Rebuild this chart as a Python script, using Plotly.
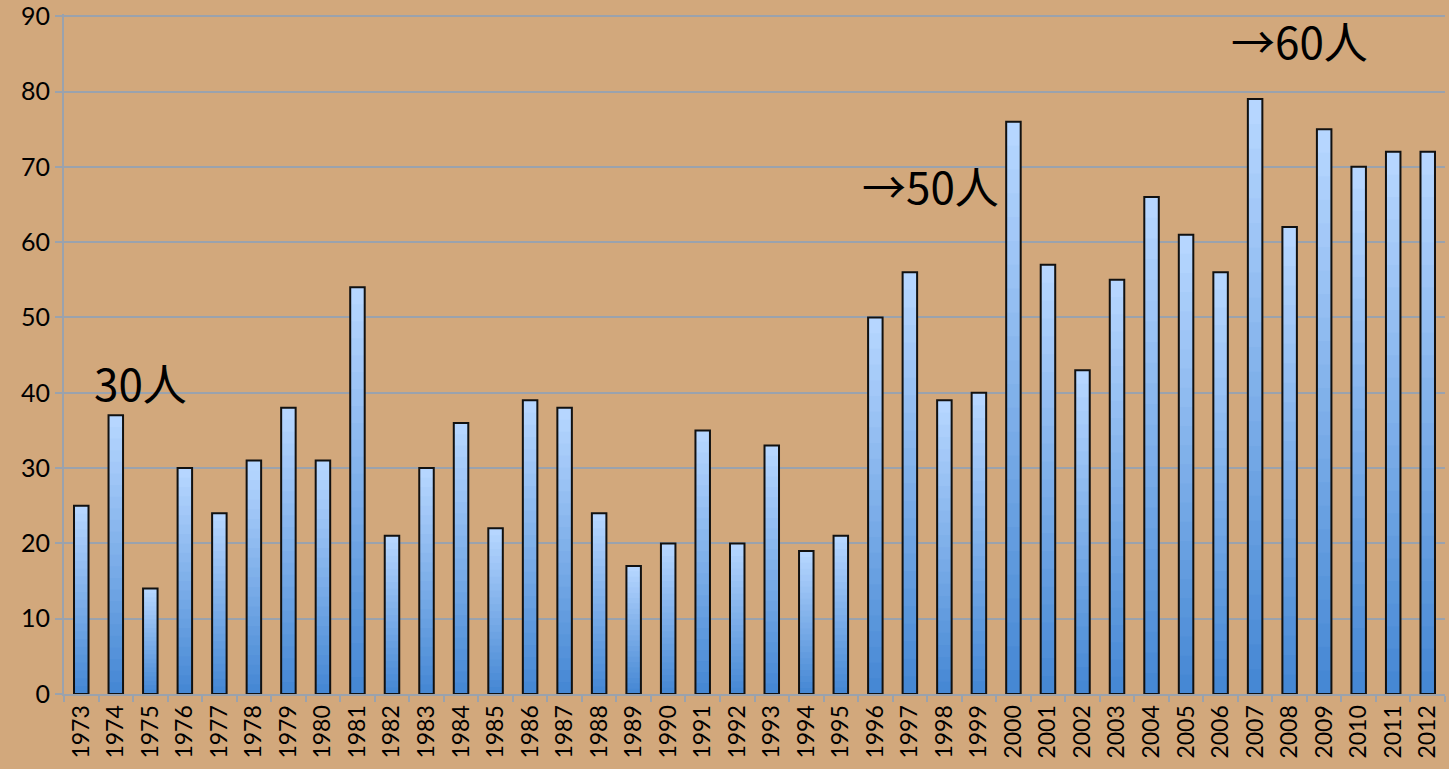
import plotly.graph_objects as go

years = [str(y) for y in range(1973, 2013)]
values = [25, 37, 14, 30, 24, 31, 38, 31, 54, 21,
          30, 36, 22, 39, 38, 24, 17, 20, 35, 20,
          33, 19, 21, 50, 56, 39, 40, 76, 57, 43,
          55, 66, 61, 56, 79, 62, 75, 70, 72, 72]
y_ticks = [0, 10, 20, 30, 40, 50, 60, 70, 80, 90]

ann_texts = ["30人", "→50人", "→60人"]
ann_x = [1.71, 24.6, 35.3]
ann_y = [41.4, 67.6, 86.8]

top_rgb = (182, 214, 255)
bot_rgb = (70, 136, 212)
N = 24

fig = go.Figure()
for k in range(N):
    t = k / (N - 1)
    c = tuple(int(round(top_rgb[i] + (bot_rgb[i] - top_rgb[i]) * t)) for i in range(3))
    frac = (N - k) / N
    fig.add_trace(go.Bar(
        x=years, y=[v * frac for v in values],
        marker=dict(color="rgb(%d,%d,%d)" % c, line=dict(width=0)),
        hoverinfo="skip", showlegend=False))
fig.add_trace(go.Bar(
    x=years, y=values,
    marker=dict(color="rgba(0,0,0,0)", line=dict(color="#111111", width=2)),
    showlegend=False))

for t, x, y in zip(ann_texts, ann_x, ann_y):
    fig.add_annotation(x=x, y=y, xref="x", yref="y", text=t, showarrow=False,
                       font=dict(family="Noto Sans CJK JP", size=44, color="#000000"))

fig.update_layout(
    width=1449, height=769,
    margin=dict(l=64, r=4, t=14, b=75, autoexpand=False),
    barmode="overlay", bargap=0.58,
    paper_bgcolor="#d2a87c", plot_bgcolor="#d2a87c",
    font=dict(family="Lato, Liberation Sans, sans-serif", color="#000000"),
)
fig.update_xaxes(
    type="category", tickangle=-90, tickfont=dict(size=23),
    showline=True, linecolor="#9aa2ad", linewidth=2,
    ticks="outside", tickson="boundaries", ticklen=6, tickcolor="#9aa2ad", tickwidth=2,
    showgrid=False, range=[-0.5, 39.5], automargin=False,
)
fig.update_yaxes(
    range=[0, 90.3], tickvals=y_ticks, tickfont=dict(size=25),
    showline=True, linecolor="#9aa2ad", linewidth=2,
    ticks="outside", ticklen=7, tickcolor="#9aa2ad", tickwidth=2,
    showgrid=True, gridcolor="#9aa2ad", gridwidth=2, zeroline=False, automargin=False,
)

fig.write_html("out.html", config={"displayModeBar": False},
               post_script="document.body.style.margin='0';document.body.style.overflow='hidden';")
